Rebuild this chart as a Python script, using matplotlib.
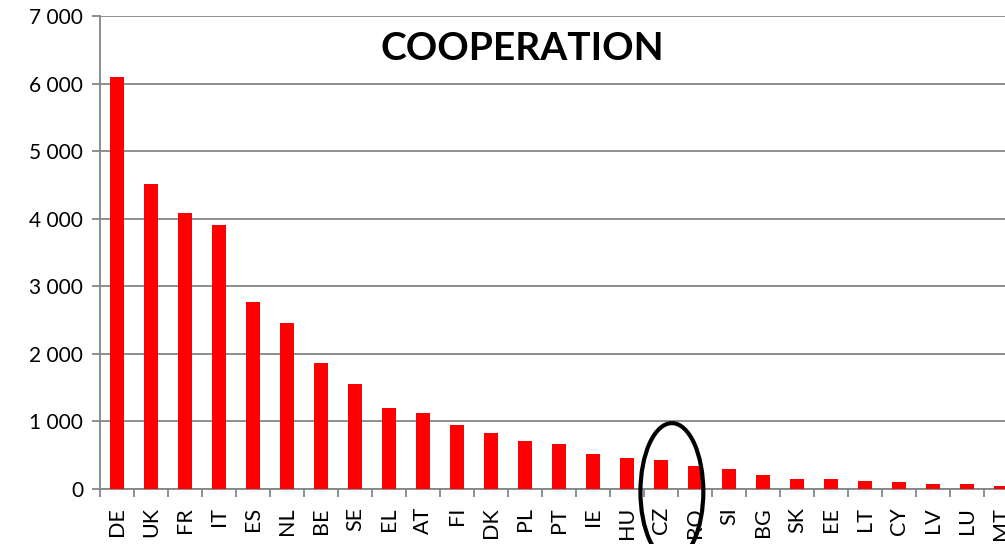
import matplotlib.pyplot as plt
import numpy as np
from matplotlib.patches import Ellipse
from matplotlib.ticker import FuncFormatter

countries = ["DE", "UK", "FR", "IT", "ES", "NL", "BE", "SE", "EL", "AT", "FI", "DK", "PL", "PT",
             "IE", "HU", "CZ", "RO", "SI", "BG", "SK", "EE", "LT", "CY", "LV", "LU", "MT"]
values = [6090, 4510, 4085, 3905, 2765, 2455, 1860, 1550, 1200, 1125, 945, 830, 710, 665,
          520, 460, 430, 345, 290, 212, 153, 150, 123, 108, 79, 69, 49]
y_ticks = [0, 1000, 2000, 3000, 4000, 5000, 6000, 7000]

plt.rcParams['font.family'] = ['Lato', 'DejaVu Sans']

fig = plt.figure(figsize=(10.05, 5.44), dpi=100)
ax = fig.add_axes([100 / 1005, 55 / 544, 27 * 34 / 1005, 473 / 544])

x = np.arange(len(countries))
ax.bar(x, values, width=0.4, color="#ff0000", zorder=3)

ax.set_xlim(-0.5, len(countries) - 0.5)
ax.set_ylim(0, 7000)
ax.set_yticks(y_ticks)
ax.yaxis.set_major_formatter(FuncFormatter(lambda v, p: f"{int(v):,}".replace(",", " ")))
ax.yaxis.grid(True, color="#868686", linewidth=1.3, zorder=0)

ax.set_xticks(x)
ax.set_xticklabels(countries, rotation=90, fontsize=15.5)
ax.set_xticks(np.arange(-0.5, len(countries), 1), minor=True)
ax.tick_params(axis="x", which="major", length=0, pad=13)
ax.tick_params(axis="x", which="minor", length=6, color="#868686", width=1.3)
ax.tick_params(axis="y", labelsize=15, length=6, color="#868686", width=1.3, pad=6)

for side in ["top", "right"]:
    ax.spines[side].set_visible(False)
for side in ["left", "bottom"]:
    ax.spines[side].set_color("#868686")
    ax.spines[side].set_linewidth(1.3)

fig.text(522 / 1005, 1 - 48 / 544, "COOPERATION", ha="center", va="center",
         fontsize=28, fontweight="bold")

ell = Ellipse((16.32, -40), width=1.85, height=2030, fill=False, edgecolor="black",
              linewidth=3, clip_on=False, zorder=5)
ax.add_patch(ell)

fig.savefig("out.png", dpi=100)
